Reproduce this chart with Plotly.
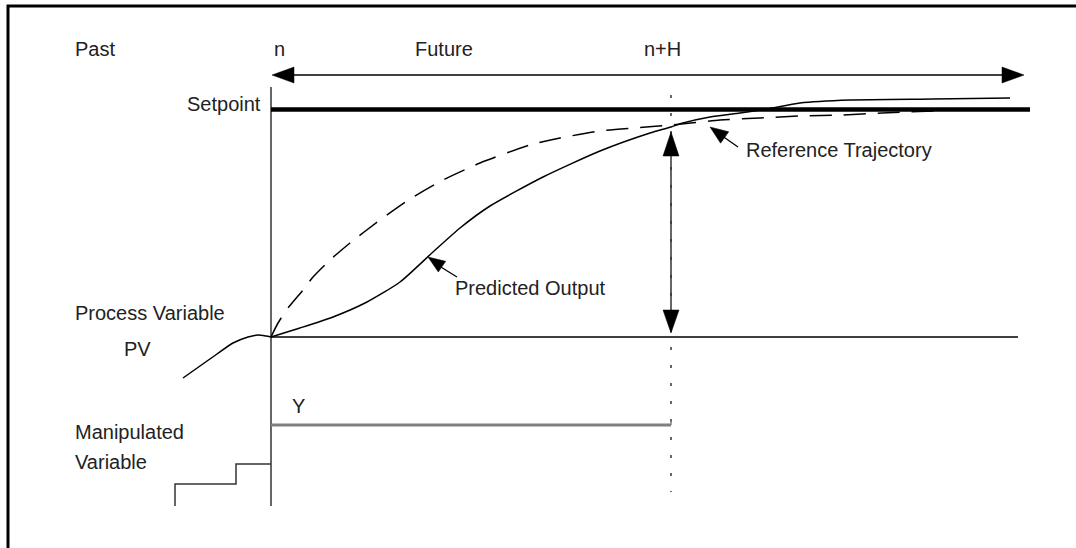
"""
Predictive control horizon diagram (PV, setpoint, reference trajectory, MV).
Drawn on a pixel-sized canvas: x 0..1076, y 0..548 (y down).
"""
import plotly.graph_objects as go

W, H = 1076, 548

# --- curves (canvas units) ---
past_pv_x = [183, 200, 217, 233, 248, 258, 266, 271]
past_pv_y = [378, 366, 354, 343, 337, 335, 336, 337]

predicted_x = [271, 300, 333, 367, 400, 433, 460, 490, 543, 600, 650, 671,
               683, 710, 740, 767, 800, 850, 933, 1010]
predicted_y = [337, 328, 317, 302, 282, 252, 228, 206, 177, 151, 133, 127,
               123, 117, 113, 109, 103, 100, 99, 98]

reference_x = [271, 278, 288, 303, 313, 330, 350, 380, 410, 443, 480, 530, 560, 600, 633,
               671, 720, 760, 800, 842, 882, 935]
reference_y = [337, 323, 308, 290, 277, 260, 243, 220, 199, 180, 163, 145, 138, 131, 128,
               125, 120, 118, 116, 115, 113, 111]

mv_steps_x = [175, 175, 236, 236, 271]
mv_steps_y = [506, 484, 484, 464, 464]

# --- reference levels / markers ---
now_x, horizon_x = 271, 671
setpoint_y = 109.5
pv_level_y = 337
mv_level_y = 425
span_y = 75

# --- labels: (text, x, y, anchor) ---
labels = [
    ("Past", 73, 49, "left"),
    ("n", 272, 49, "left"),
    ("Future", 413, 49, "left"),
    ("n+H", 642, 49, "left"),
    ("Setpoint", 263, 104, "right"),
    ("Process Variable", 73, 313, "left"),
    ("PV", 122, 349, "left"),
    ("Manipulated", 73, 432, "left"),
    ("Variable", 73, 462, "left"),
    ("Y", 290, 406, "left"),
    ("Predicted Output", 453, 288, "left"),
    ("Reference Trajectory", 744, 150, "left"),
]


def line(fig, xs, ys, color="black", width=1.5, dash="solid", shape="linear"):
    fig.add_trace(go.Scatter(x=xs, y=ys, mode="lines", hoverinfo="skip",
                             line=dict(color=color, width=width, dash=dash,
                                       shape=shape, smoothing=0.6 if shape == "spline" else None)))


def head(fig, tip, tail, length, width, color="black"):
    """Filled triangular arrow head with tip at `tip`, pointing away from `tail`."""
    tx, ty = tip
    dx, dy = tx - tail[0], ty - tail[1]
    n = (dx ** 2 + dy ** 2) ** 0.5
    ux, uy = dx / n, dy / n
    bx, by = tx - ux * length, ty - uy * length
    px, py = -uy * width / 2, ux * width / 2
    fig.add_trace(go.Scatter(x=[tx, bx + px, bx - px, tx], y=[ty, by + py, by - py, ty],
                             mode="lines", fill="toself", fillcolor=color,
                             line=dict(color=color, width=0.5), hoverinfo="skip"))


fig = go.Figure()

# frame (top + left edges)
line(fig, [8, 8, W], [H, 6, 6], width=3)

# time span arrow n .. beyond n+H
line(fig, [now_x + 10, 1010], [span_y, span_y], width=1.3)
head(fig, (now_x + 1, span_y), (1000, span_y), 22, 16)
head(fig, (1024, span_y), (now_x, span_y), 22, 16)

# "now" vertical
line(fig, [now_x, now_x], [87, 506], color="#333333", width=1.5)

# horizon dotted vertical
line(fig, [horizon_x, horizon_x], [95, 492], color="#333333", width=1.5, dash="3px,15px")

# setpoint
line(fig, [now_x, 1030], [setpoint_y, setpoint_y], width=4.5)

# PV level
line(fig, [now_x, 1018], [pv_level_y, pv_level_y], width=1.5)

# curves
line(fig, past_pv_x, past_pv_y, width=1.5, shape="spline")
line(fig, predicted_x, predicted_y, width=1.5, shape="spline")
line(fig, reference_x, reference_y, width=1.5, dash="22px,12px", shape="spline")

# error arrow at n+H
line(fig, [horizon_x, horizon_x], [145, 320], color="#333333", width=1.5)
head(fig, (horizon_x, 132), (horizon_x, 300), 24, 16)
head(fig, (horizon_x, 333), (horizon_x, 150), 23, 16)

# manipulated variable
line(fig, [now_x, horizon_x], [mv_level_y, mv_level_y], color="#808080", width=3)
line(fig, [horizon_x, horizon_x], [mv_level_y, mv_level_y - 4], color="#808080", width=1.5)
line(fig, mv_steps_x, mv_steps_y, color="#333333", width=1.5)

# callout arrows
line(fig, [457, 436], [277, 264], width=1.3)
head(fig, (428, 257), (457, 277), 17, 13)
line(fig, [738, 718], [147, 133], width=1.3)
head(fig, (710, 127), (738, 147), 18, 14)

for text, x, y, anchor in labels:
    fig.add_annotation(x=x, y=y, text=text, showarrow=False, xanchor=anchor,
                       yanchor="middle", font=dict(size=20, color="#222222"))

# keep the right page edge clean (the reference has no right border)
fig.add_shape(type="rect", xref="paper", yref="paper", x0=0.994, x1=1.01, y0=-0.01, y1=0.982,
              fillcolor="white", line=dict(width=0), layer="above")

fig.update_layout(
    width=W, height=H,
    margin=dict(l=0, r=0, t=0, b=0),
    paper_bgcolor="white", plot_bgcolor="white",
    showlegend=False,
    font=dict(family="Liberation Sans, Arial, sans-serif"),
    xaxis=dict(range=[0, W], visible=False, fixedrange=True),
    yaxis=dict(range=[H, 0], visible=False, fixedrange=True),
)

fig.write_html("out.html", config={"displayModeBar": False},
               post_script="document.body.style.margin = '0'; "
                           "document.documentElement.style.overflow = 'hidden';")
